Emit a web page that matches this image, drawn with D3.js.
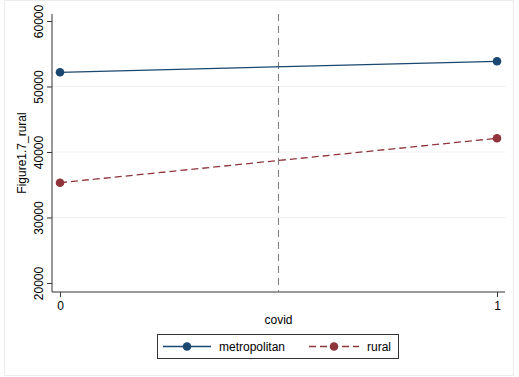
<!DOCTYPE html>
<html>
<head>
<meta charset="utf-8">
<style>
  body { margin: 0; background: #fff; font-family: "Liberation Sans", Arial, sans-serif; }
  svg text { fill: #000; }
</style>
</head>
<body>
<div id="chart"></div>
<script src="https://cdn.jsdelivr.net/npm/d3@7"></script>
<script>
// data
var covid = [0, 1];
var metropolitan = [52170, 53850];
var rural = [35310, 42090];
var yTicks = [20000, 30000, 40000, 50000, 60000];
var yGrid = [30000, 40000, 50000];
var xTicks = [0, 1];
var cutoff = 0.5;
var seriesNames = ["metropolitan", "rural"];

var W = 519, H = 377;
var plotL = 52, plotR = 505, plotT = 14, plotB = 292;

var svg = d3.select("#chart").append("svg")
    .attr("width", W).attr("height", H);

// faint frame round the graph region
svg.append("rect")
    .attr("x", 4.5).attr("y", 0.5).attr("width", 509).attr("height", 375)
    .style("fill", "none").style("stroke", "#ececec");

var x = d3.scaleLinear().domain([-0.0183, 1.0183]).range([plotL, plotR]);
var y = d3.scaleLinear().domain([18620, 61070]).range([plotB, plotT]);

// gridlines
svg.append("g").selectAll("line").data(yGrid).enter().append("line")
    .attr("x1", plotL).attr("x2", plotR + 1)
    .attr("y1", d => y(d)).attr("y2", d => y(d))
    .style("stroke", "#eef1f3").style("stroke-width", 1);

// y axis
var yAxis = d3.axisLeft(y).tickValues(yTicks).tickSize(5).tickFormat(d3.format("d"));
var gy = svg.append("g").attr("transform", `translate(${plotL},0)`).call(yAxis);
gy.select(".domain").attr("d", `M0,${plotT}V${plotB}`);
gy.selectAll("line, path").style("stroke", "#333");
gy.selectAll("text")
    .attr("transform", "rotate(-90)")
    .attr("x", 0).attr("y", -9).attr("dy", 0)
    .style("text-anchor", "middle")
    .style("font-size", "12px")
    .style("font-family", "Liberation Sans, Arial, sans-serif");

// x axis
var xAxis = d3.axisBottom(x).tickValues(xTicks).tickSize(5).tickFormat(d3.format("d"));
var gx = svg.append("g").attr("transform", `translate(0,${plotB})`).call(xAxis);
gx.select(".domain").attr("d", `M${plotL},0H${plotR}`);
gx.selectAll("line, path").style("stroke", "#333");
gx.selectAll("text")
    .attr("y", 9)
    .style("font-size", "12px")
    .style("font-family", "Liberation Sans, Arial, sans-serif");

// axis titles
svg.append("text")
    .attr("transform", `translate(26,${(plotT + plotB) / 2}) rotate(-90)`)
    .style("text-anchor", "middle")
    .style("font-size", "12px")
    .text("Figure1.7_rural");

svg.append("text")
    .attr("x", (plotL + plotR) / 2).attr("y", 324)
    .style("text-anchor", "middle")
    .style("font-size", "12px")
    .text("covid");

// vertical reference line
svg.append("line")
    .attr("x1", x(cutoff)).attr("x2", x(cutoff))
    .attr("y1", plotT).attr("y2", plotB)
    .style("stroke", "#808080").style("stroke-width", 1.1)
    .style("stroke-dasharray", "7,5");

var series = [
    {name: seriesNames[0], values: metropolitan, color: "#1a476f", dash: null},
    {name: seriesNames[1], values: rural, color: "#90353b", dash: "7,4"}
];

var line = d3.line().x((d, i) => x(covid[i])).y(d => y(d));

series.forEach(function(s) {
    svg.append("path").datum(s.values)
        .attr("d", line)
        .style("fill", "none")
        .style("stroke", s.color).style("stroke-width", 1.3)
        .style("stroke-dasharray", s.dash);
    svg.append("g").selectAll("circle").data(s.values).enter().append("circle")
        .attr("cx", (d, i) => x(covid[i])).attr("cy", d => y(d))
        .attr("r", 4.3)
        .style("fill", s.color);
});

// legend
var legend = svg.append("g");
legend.append("rect")
    .attr("x", 157.5).attr("y", 334.5).attr("width", 241).attr("height", 24)
    .style("fill", "#fff").style("stroke", "#333").style("stroke-width", 1);

var legendItems = [
    {s: series[0], x0: 163, x1: 211, tx: 219},
    {s: series[1], x0: 309, x1: 359, tx: 367}
];
legendItems.forEach(function(it) {
    legend.append("line")
        .attr("x1", it.x0).attr("x2", it.x1).attr("y1", 346.5).attr("y2", 346.5)
        .style("stroke", it.s.color).style("stroke-width", 1.3)
        .style("stroke-dasharray", it.s.dash);
    legend.append("circle")
        .attr("cx", (it.x0 + it.x1) / 2).attr("cy", 346.5).attr("r", 4.3)
        .style("fill", it.s.color);
    legend.append("text")
        .attr("x", it.tx).attr("y", 351)
        .style("font-size", "12px")
        .text(it.s.name);
});
</script>
</body>
</html>
